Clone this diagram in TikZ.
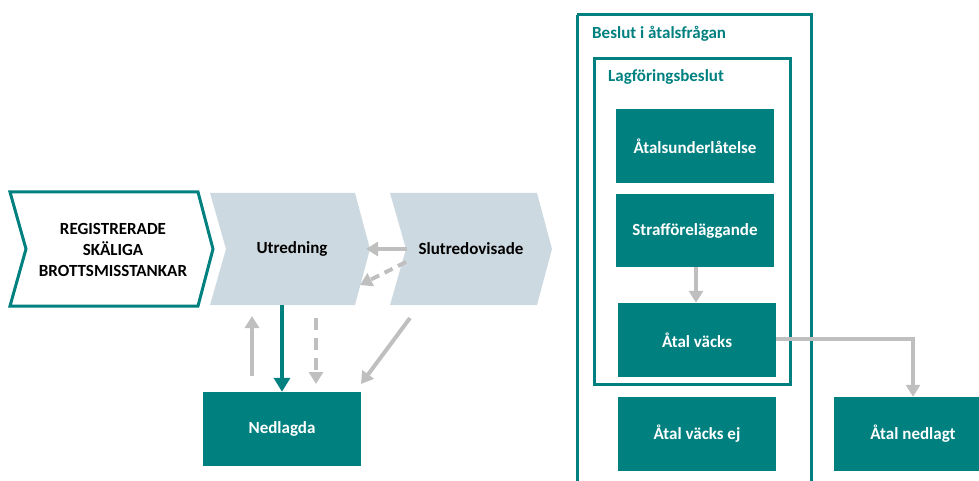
\documentclass[tikz,border=0pt]{standalone}
\usepackage{fontspec}
\setmainfont{Carlito}
\usetikzlibrary{arrows.meta}
\definecolor{teal1}{HTML}{00807F}
\definecolor{greyA}{HTML}{BFBFBF}
\definecolor{chev}{HTML}{CDD9E0}
\begin{document}
\begin{tikzpicture}[x=1pt,y=-1pt,
  box/.style={fill=teal1,text=white,font=\bfseries\fontsize{17}{20}\selectfont,inner sep=0pt},
  ttl/.style={text=teal1,font=\bfseries\fontsize{17}{20}\selectfont,anchor=west,inner sep=0pt},
  chevtxt/.style={font=\bfseries\fontsize{17}{21}\selectfont,align=center,inner sep=0pt},
  garrow/.style={draw=greyA,line width=4pt,-{Triangle[width=14pt,length=12pt]}},
  tarrow/.style={draw=teal1,line width=4.5pt,-{Triangle[width=16pt,length=14pt]}},
  frame/.style={draw=teal1,line width=3pt}]
\useasboundingbox (0,0) rectangle (979,481);
% chevrons
\draw[teal1,line width=3pt,fill=white] (10,192) -- (198,192) -- (213,249) -- (198,306) -- (10,306) -- (26,249) -- cycle;
\fill[chev] (210,193) -- (355,193) -- (370,249) -- (355,305) -- (210,305) -- (226,249) -- cycle;
\fill[chev] (390,193) -- (537,193) -- (552,249) -- (537,305) -- (390,305) -- (406,249) -- cycle;
\node[chevtxt] (reg) at (113,250) {REGISTRERADE\\SKÄLIGA\\BROTTSMISSTANKAR};
\node[chevtxt] (utr) at (292,249) {Utredning};
\node[chevtxt] (slut) at (471,249) {Slutredovisade};
% left nodes
\node[box,minimum width=158pt,minimum height=74pt] (ned) at (282,429) {Nedlagda};
\coordinate (s1) at (407,249);
\coordinate (e1) at (366,249);
\coordinate (s2) at (406,262);
\coordinate (e2) at (360,285);
\draw[garrow] (s1) -- (e1);
\draw[garrow,dash pattern=on 9pt off 6pt] (s2) -- (e2);
\coordinate (u1) at (252,376);
\coordinate (u2) at (252,316);
\draw[garrow] (u1) -- (u2);
\coordinate (t1) at (282,305);
\draw[tarrow] (t1) -- (ned.north -| t1);
\coordinate (d1) at (316,318);
\draw[garrow,dash pattern=on 12pt off 8pt] (d1) -- (316,384);
\coordinate (g1) at (410,318);
\draw[garrow] (g1) -- (361,384);
% right side
\draw[frame] (577,15) -- (811,15) -- (811,495) (577,15) -- (577,495);
\node[ttl] (ttlA) at (592,34) {Beslut i åtalsfrågan};
\draw[frame] (594,59) rectangle (790,384);
\node[ttl] (ttlB) at (608,77) {Lagföringsbeslut};
\node[box,minimum width=158pt,minimum height=74pt] (aul) at (695,146) {Åtalsunderlåtelse};
\node[box,minimum width=158pt,minimum height=73pt] (stf) at (695,230.5) {Strafföreläggande};
\node[box,minimum width=158pt,minimum height=74pt] (av) at (697,340) {Åtal väcks};
\node[box,minimum width=158pt,minimum height=74pt] (avej) at (697,434) {Åtal väcks ej};
\node[box,minimum width=158pt,minimum height=74pt] (an) at (913,434) {Åtal nedlagt};
\draw[garrow] (stf.south -| 696,0) -- (av.north -| 696,0);
\draw[garrow] (av.east) ++(0,-1) -| (an.north);
\end{tikzpicture}
\end{document}
